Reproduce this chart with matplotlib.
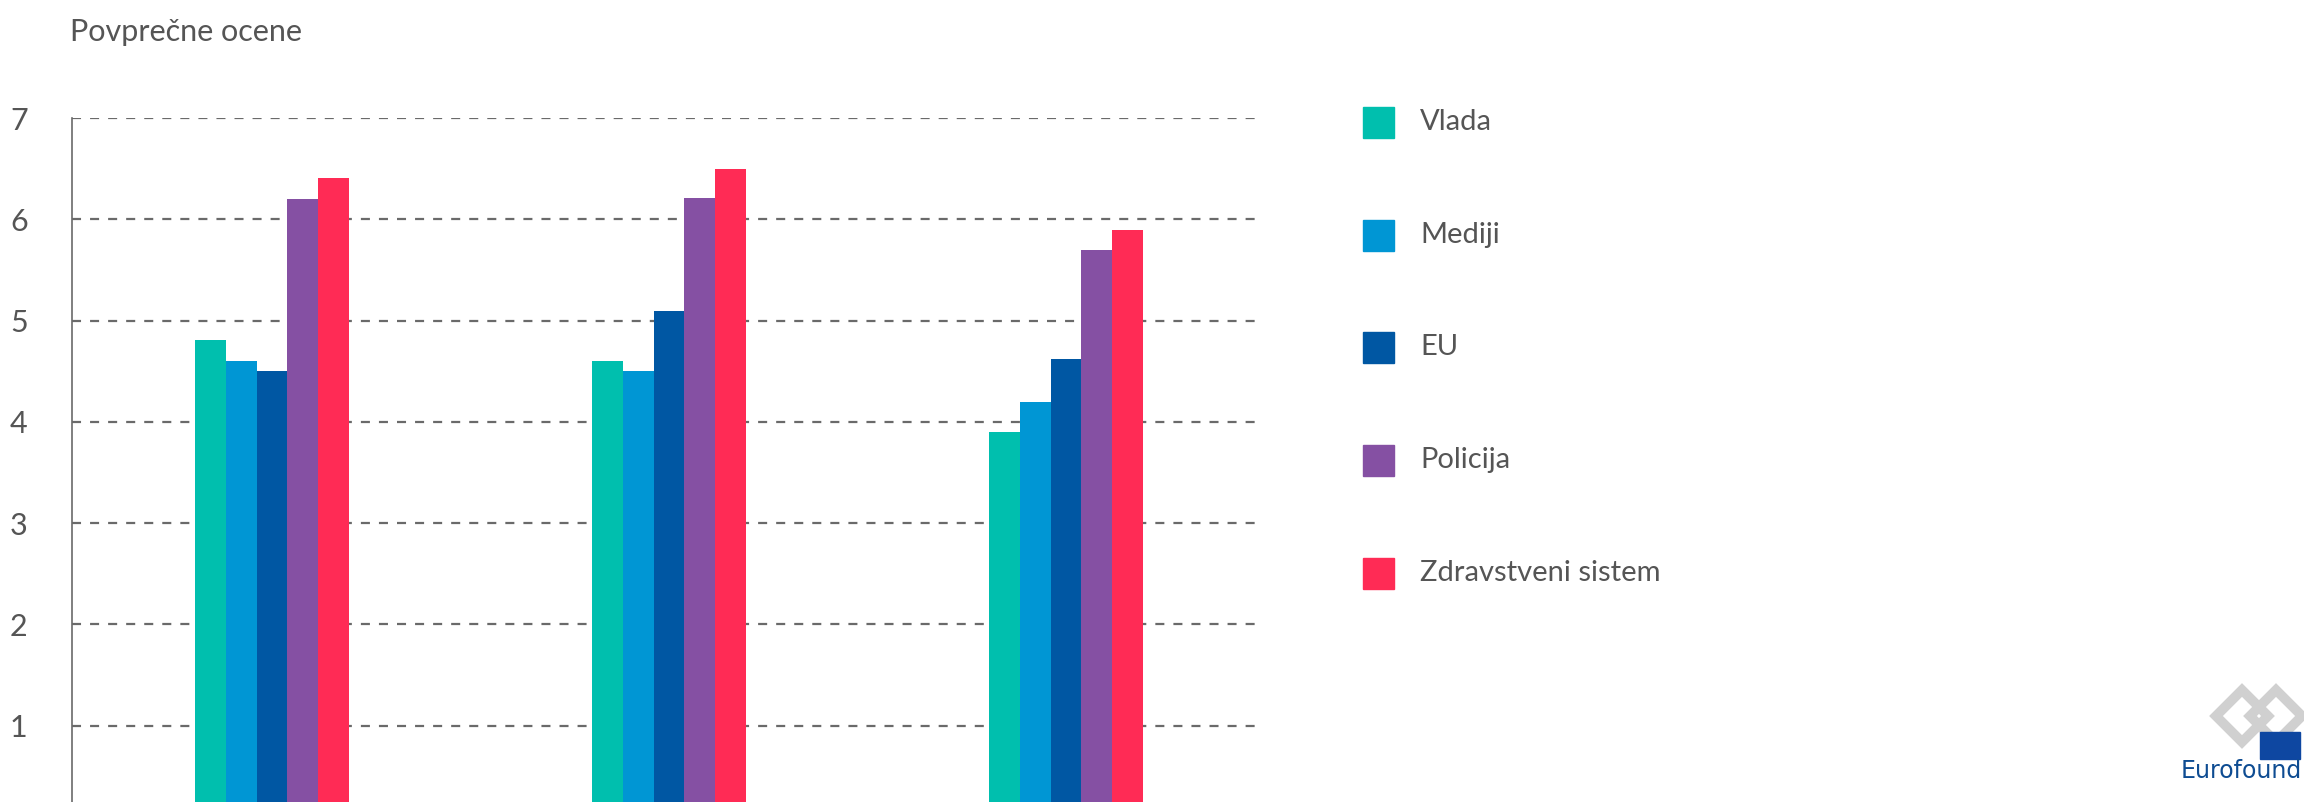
import numpy as np
import matplotlib.pyplot as plt
from matplotlib.patches import RegularPolygon, Rectangle

plt.rcParams['font.family'] = ['Lato', 'DejaVu Sans']
plt.rcParams['lines.scale_dashes'] = False

groups = ['A', 'B', 'C']
series = ['Vlada', 'Mediji', 'EU', 'Policija', 'Zdravstveni sistem']
vlada = [4.81, 4.60, 3.90]
mediji = [4.60, 4.50, 4.20]
eu = [4.50, 5.09, 4.62]
policija = [6.20, 6.21, 5.70]
zdravstvo = [6.41, 6.50, 5.89]
yticks = [1, 2, 3, 4, 5, 6, 7]

colors = ['#00bfae', '#0096d4', '#0057a3', '#8550a3', '#ff2b55']
text_col = '#555555'

W, H = 2304, 802
fig = plt.figure(figsize=(W / 100, H / 100), dpi=100)

# plot area: spine at x=72px, grid 7 at y=118px, y=0 at 827px (below the image)
ax = fig.add_axes([72 / W, (H - 827) / H, (1260 - 72) / W, (827 - 118) / H])

x = np.arange(len(groups))
bw = 0.0776
values = [vlada, mediji, eu, policija, zdravstvo]
for i, (vals, c, name) in enumerate(zip(values, colors, series)):
    ax.bar(x + (i - 2) * bw, vals, bw, color=c, label=name, zorder=3)

ax.set_xlim(-0.504, 2.489)
ax.set_ylim(0, 7)
ax.set_yticks(yticks)
ax.set_yticklabels([str(v) for v in yticks])
ax.set_xticks([])
for y in yticks:
    ax.axhline(y, color='#6a6a6a', lw=1.6, ls=(0, (6.5, 6.5)), zorder=1)

for s in ['top', 'right', 'bottom']:
    ax.spines[s].set_visible(False)
ax.spines['left'].set_color('#6a6a6a')
ax.spines['left'].set_linewidth(1.2)
ax.tick_params(axis='y', length=0, pad=0, labelsize=22, labelcolor=text_col)
for lab in ax.get_yticklabels():
    lab.set_horizontalalignment('left')
    lab.set_x(-62 / (1260 - 72))

fig.text(70 / W, 1 - 32 / H, 'Povprečne ocene', fontsize=22, color=text_col,
         va='center', ha='left')

# legend
leg_y = [122, 235, 347, 460, 573]
for name, c, ly in zip(series, colors, leg_y):
    fig.patches.append(Rectangle((1363 / W, 1 - (ly + 15.5) / H), 31 / W, 31 / H,
                                 transform=fig.transFigure, color=c))
    fig.text(1420 / W, 1 - ly / H, name, fontsize=21, color=text_col,
             va='center', ha='left')

# Eurofound logo (bottom right)
lax = fig.add_axes([2160 / W, 0, 144 / W, 130 / H])
lax.set_xlim(2160, 2304)
lax.set_ylim(802, 672)
lax.axis('off')
for cx in [2242, 2276]:
    lax.add_patch(RegularPolygon((cx, 716), 4, radius=26, orientation=0,
                                 fill=False, ec='#d0d0d0', lw=7))
lax.add_patch(Rectangle((2260, 732), 40, 27, color='#0e47a1'))
lax.text(2302, 778, 'Eurofound', fontsize=17, color='#0e4c92',
         family='DejaVu Sans', va='baseline', ha='right', clip_on=False)

fig.savefig('out.png', dpi=100)
